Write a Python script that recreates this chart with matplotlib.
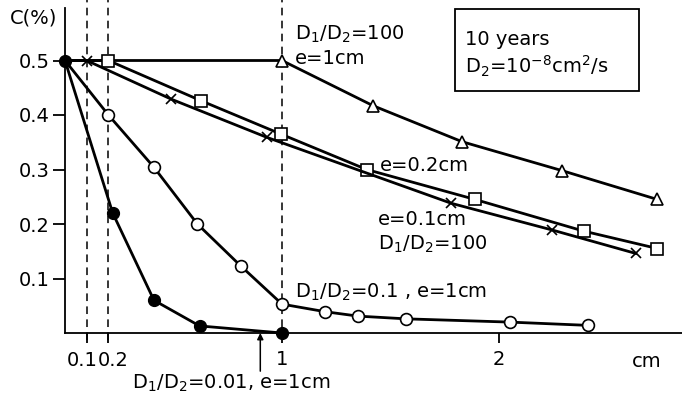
import matplotlib
matplotlib.use("Agg")
import matplotlib.pyplot as plt
from matplotlib.patches import Rectangle

plt.rcParams['font.family'] = ['DejaVu Sans']
plt.rcParams['mathtext.default'] = 'regular'

# D1/D2 = 0.01, e = 1 cm (filled circles)
x_001 = [0, 0.22, 0.41, 0.62, 1.0]
c_001 = [0.5, 0.22, 0.06, 0.013, 0.0]

# D1/D2 = 0.1, e = 1 cm (open circles)
x_01 = [0, 0.20, 0.41, 0.61, 0.81, 1.0, 1.20, 1.35, 1.57, 2.05, 2.41]
c_01 = [0.5, 0.40, 0.304, 0.20, 0.123, 0.053, 0.039, 0.031, 0.026, 0.020, 0.014]

# D1/D2 = 100, e = 1 cm (triangles)
x_100_e1 = [0, 1.0, 1.42, 1.83, 2.29, 2.73]
c_100_e1 = [0.5, 0.5, 0.417, 0.351, 0.298, 0.245]

# D1/D2 = 100, e = 0.2 cm (squares)
x_100_e02 = [0, 0.2, 0.628, 0.995, 1.39, 1.89, 2.39, 2.73]
c_100_e02 = [0.5, 0.5, 0.426, 0.365, 0.300, 0.245, 0.187, 0.155]

# D1/D2 = 100, e = 0.1 cm (crosses)
x_100_e01 = [0, 0.1, 0.49, 0.93, 1.78, 2.245, 2.63]
c_100_e01 = [0.5, 0.5, 0.429, 0.359, 0.238, 0.189, 0.146]

y_ticks = [0.1, 0.2, 0.3, 0.4, 0.5]
y_labels = ['0.1', '0.2', '0.3', '0.4', '0.5']
x_ticks = [0.1, 0.2, 1, 2]
dashed_x = [0.1, 0.2, 1.0]

fig = plt.figure(figsize=(6.82, 3.97), dpi=100)
ax = fig.add_axes([65 / 682, 64 / 397, 617 / 682, 333 / 397])
ax.set_xlim(0, 617 / 217)
ax.set_ylim(0, 333 / 545)

for s in ['top', 'right']:
    ax.spines[s].set_visible(False)
ax.spines['left'].set_bounds(0, 0.596)
ax.spines['left'].set_linewidth(1.3)
ax.spines['bottom'].set_linewidth(1.3)

fs = 14
ax.set_yticks(y_ticks)
ax.set_yticklabels(y_labels, fontsize=fs)
ax.tick_params(axis='y', direction='out', length=9, width=1.3, pad=2)
ax.set_xticks(x_ticks)
ax.set_xticklabels(['', '', '1', '2'], fontsize=fs)
ax.tick_params(axis='x', direction='out', length=7, width=1.3, pad=5)
ax.text(0.15, -0.05, '0.1', ha='right', va='center', fontsize=fs, clip_on=False)
ax.text(0.15, -0.05, '0.2', ha='left', va='center', fontsize=fs, clip_on=False)

ax.vlines(dashed_x, -0.013, 0.611, colors='black', linestyles=(0, (5, 3.5)),
          linewidth=1.1, clip_on=False)

lw = 2.0
skip0 = slice(1, None)
ax.plot(x_100_e1, c_100_e1, color='black', lw=lw, marker='^', ms=9,
        mfc='white', mec='black', mew=1.2, markevery=skip0, clip_on=False, zorder=3)
ax.plot(x_100_e02, c_100_e02, color='black', lw=lw, marker='s', ms=8,
        mfc='white', mec='black', mew=1.2, markevery=skip0, clip_on=False, zorder=3)
ax.plot(x_100_e01, c_100_e01, color='black', lw=lw, marker='x', ms=7,
        mec='black', mew=1.2, markevery=skip0, clip_on=False, zorder=3)
ax.plot(x_01, c_01, color='black', lw=lw, marker='o', ms=8.5,
        mfc='white', mec='black', mew=1.2, markevery=skip0, clip_on=False, zorder=4)
ax.plot(x_001, c_001, color='black', lw=lw, marker='o', ms=8.5,
        mfc='black', mec='black', clip_on=False, zorder=5)

ax.text(-0.143, 0.578, 'C(%)', ha='center', va='center', fontsize=fs, clip_on=False)
ax.text(2.68, -0.053, 'cm', ha='center', va='center', fontsize=fs, clip_on=False)
ax.text(1.06, 0.548, r'D$_1$/D$_2$=100', ha='left', va='center', fontsize=fs)
ax.text(1.06, 0.504, 'e=1cm', ha='left', va='center', fontsize=fs)
ax.text(1.452, 0.308, 'e=0.2cm', ha='left', va='center', fontsize=fs)
ax.text(1.442, 0.209, 'e=0.1cm', ha='left', va='center', fontsize=fs)
ax.text(1.442, 0.163, r'D$_1$/D$_2$=100', ha='left', va='center', fontsize=fs)
ax.text(1.06, 0.075, r'D$_1$/D$_2$=0.1 , e=1cm', ha='left', va='center', fontsize=fs)
ax.text(0.31, -0.092, r'D$_1$/D$_2$=0.01, e=1cm', ha='left', va='center',
        fontsize=fs, clip_on=False)
ax.annotate('', xy=(0.90, 0.0), xytext=(0.90, -0.07),
            arrowprops=dict(arrowstyle='-|>', color='black', lw=1.1,
                            mutation_scale=9, shrinkA=0, shrinkB=0),
            annotation_clip=False)

ax.add_patch(Rectangle((1.797, 0.444), 0.848, 0.150, fill=False,
                       edgecolor='black', lw=1.3, clip_on=False))
ax.text(1.843, 0.538, '10 years', ha='left', va='center', fontsize=fs)
ax.text(1.843, 0.49, r'D$_2$=10$^{-8}$cm$^2$/s', ha='left', va='center', fontsize=fs)

fig.savefig('out.png', dpi=100)
